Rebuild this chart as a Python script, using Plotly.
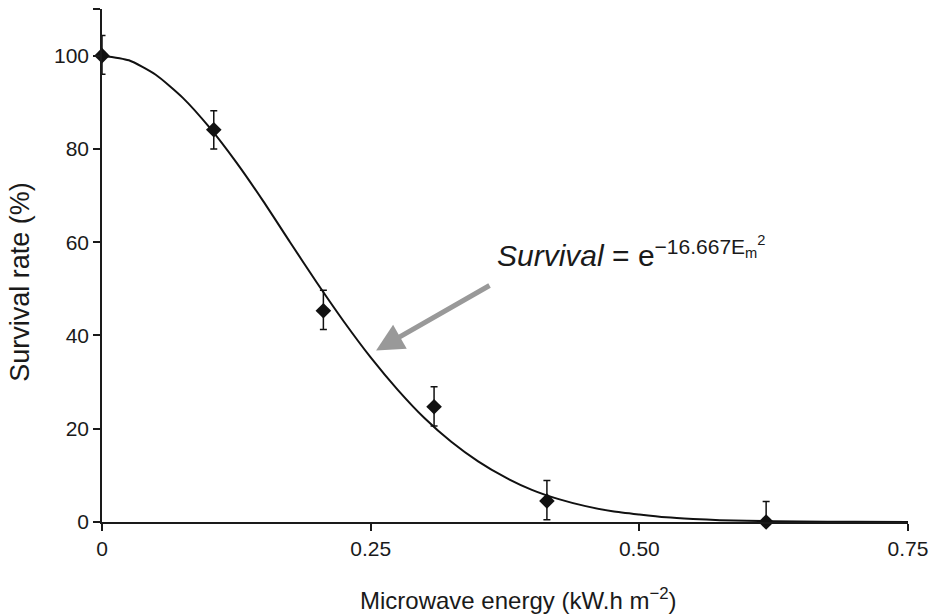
import plotly.graph_objects as go

energy = [0.0, 0.104, 0.206, 0.309, 0.414, 0.618]
survival = [100.0, 84.1, 45.3, 24.7, 4.5, 0.0]
err_plus = [4.3, 4.1, 4.4, 4.3, 4.4, 4.4]
err_minus = [4.0, 4.1, 4.0, 4.1, 4.0, 0.0]

# Fitted curve
curve_x = [0.0, 0.025, 0.05, 0.075, 0.10, 0.125, 0.15, 0.175, 0.20, 0.225, 0.25, 0.275,
           0.30, 0.325, 0.35, 0.375, 0.40, 0.425, 0.45, 0.475, 0.50, 0.525, 0.55, 0.575,
           0.60, 0.65, 0.70, 0.75]
curve_y = [100.0, 99.0, 95.9, 91.0, 84.6, 77.1, 68.8, 60.0, 51.3, 43.0, 35.3, 28.4,
           22.3, 17.2, 13.0, 9.6, 6.9, 4.9, 3.4, 2.3, 1.6, 1.0, 0.65, 0.4,
           0.25, 0.1, 0.03, 0.0]

x_ticks = [0, 0.25, 0.5, 0.75]
x_ticktext = ["0", "0.25", "0.50", "0.75"]
y_ticks = [0, 20, 40, 60, 80, 100, 110]
y_ticktext = ["0", "20", "40", "60", "80", "100", ""]

FONT = "Liberation Sans, Arial, sans-serif"

fig = go.Figure()
fig.add_trace(go.Scatter(
    x=curve_x, y=curve_y, mode="lines",
    line=dict(color="#111111", width=2, shape="spline", smoothing=0.6),
    hoverinfo="skip", cliponaxis=False,
))
fig.add_trace(go.Scatter(
    x=energy, y=survival, mode="markers",
    marker=dict(symbol="diamond", size=12, color="#111111"),
    error_y=dict(type="data", symmetric=False, array=err_plus, arrayminus=err_minus,
                 color="#111111", thickness=1.5, width=3.5),
    cliponaxis=False,
))

# arrow
fig.add_annotation(
    x=0.255, y=36.8, ax=0.362, ay=50.9, xref="x", yref="y", axref="x", ayref="y",
    text="", showarrow=True, arrowhead=2, arrowsize=1.1, arrowwidth=5, arrowcolor="#999999",
)
# equation
fig.add_annotation(
    x=0.366, y=58.0, xref="x", yref="y", xanchor="left", yanchor="middle",
    text="<i>Survival</i> = e<sup>\u221216.667E<sub>m</sub><sup>2</sup></sup>",
    showarrow=False, font=dict(family=FONT, size=30, color="#1a1a1a"),
)
# axis titles
fig.add_annotation(
    x=0.517, y=-0.150, xref="paper", yref="paper", xanchor="center", yanchor="middle",
    text="Microwave energy (kW.h m<sup>\u22122</sup>)", showarrow=False,
    font=dict(family=FONT, size=24, color="#1a1a1a"),
)
fig.add_annotation(
    x=-0.102, y=0.468, xref="paper", yref="paper", xanchor="center", yanchor="middle",
    text="Survival rate (%)", textangle=-90, showarrow=False,
    font=dict(family=FONT, size=27, color="#1a1a1a"),
)

fig.update_layout(
    width=931, height=616,
    margin=dict(l=102, r=23, t=9, b=94, autoexpand=False),
    plot_bgcolor="white", paper_bgcolor="white",
    showlegend=False,
    font=dict(family=FONT, color="#1a1a1a"),
    xaxis=dict(
        range=[0, 0.75], tickvals=x_ticks, ticktext=x_ticktext, automargin=False,
        showgrid=False, zeroline=False, showline=True, linecolor="#1a1a1a", linewidth=1.5,
        ticks="outside", ticklen=7, tickwidth=1.5, tickcolor="#1a1a1a",
        tickfont=dict(size=21),
    ),
    yaxis=dict(
        range=[0, 110], tickvals=y_ticks, ticktext=y_ticktext, automargin=False,
        showgrid=False, zeroline=False, showline=True, linecolor="#1a1a1a", linewidth=1.5,
        ticks="outside", ticklen=7, tickwidth=1.5, tickcolor="#1a1a1a",
        tickfont=dict(size=21),
    ),
)

fig.write_html(
    "out.html",
    config={"displayModeBar": False},
    post_script="document.body.style.margin='0';document.body.style.overflow='hidden';",
)
